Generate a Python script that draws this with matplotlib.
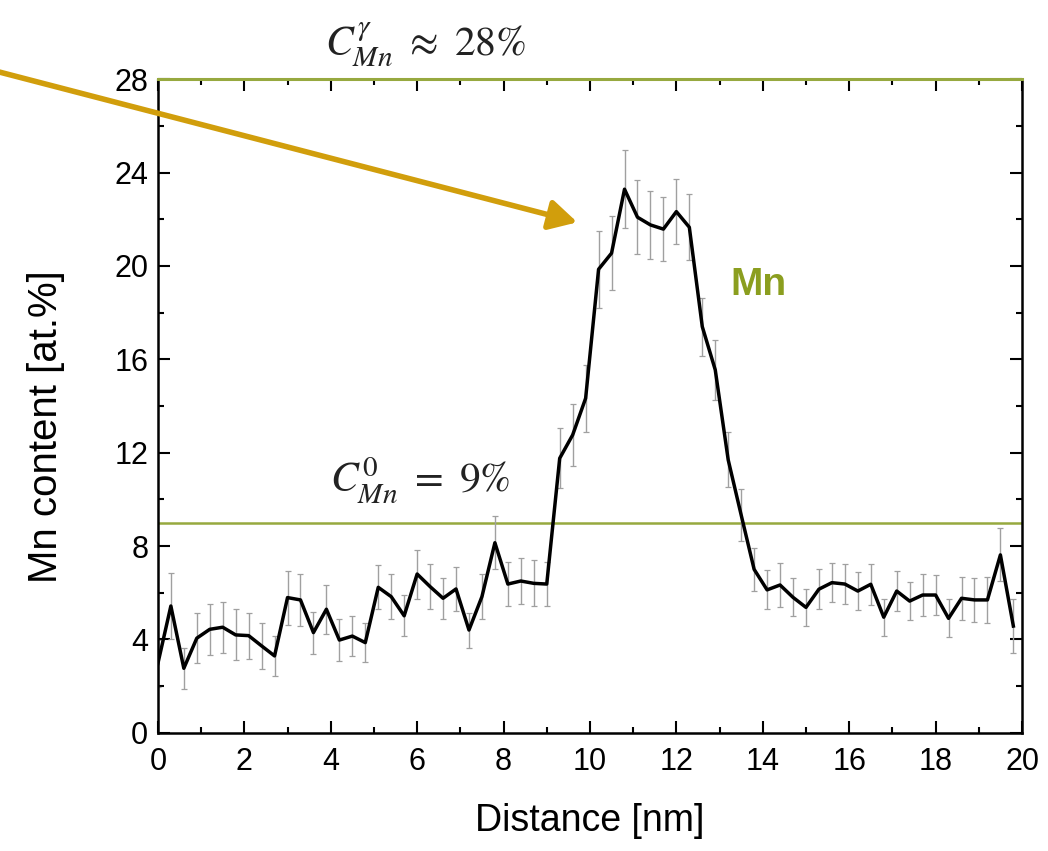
import numpy as np
import matplotlib
matplotlib.use("Agg")
import matplotlib.pyplot as plt
from matplotlib.patches import FancyArrowPatch
from matplotlib.ticker import MultipleLocator

# ---- data ----
distance_nm = np.round(np.arange(67) * 0.3, 1)
mn_content = [2.97, 5.43, 2.76, 4.05, 4.43, 4.52, 4.19, 4.16, 3.72, 3.29,
              5.79, 5.69, 4.29, 5.29, 3.97, 4.14, 3.86, 6.23, 5.83, 5.01,
              6.80, 6.26, 5.76, 6.16, 4.40, 5.83, 8.14, 6.37, 6.50, 6.40,
              6.37, 11.76, 12.76, 14.33, 19.86, 20.55, 23.29, 22.09, 21.76, 21.58,
              22.33, 21.66, 17.40, 15.55, 11.69, 9.33, 7.00, 6.12, 6.33, 5.80,
              5.37, 6.15, 6.43, 6.37, 6.07, 6.36, 4.95, 6.07, 5.64, 5.90,
              5.90, 4.90, 5.76, 5.69, 5.69, 7.62, 4.57]
mn_error = [1.00, 1.40, 0.89, 1.07, 1.10, 1.10, 1.09, 0.99, 0.98, 0.86,
            1.16, 1.10, 0.90, 1.04, 0.89, 0.87, 0.82, 0.95, 0.96, 0.88,
            1.05, 0.95, 0.88, 0.93, 0.75, 0.95, 1.14, 0.95, 0.98, 0.98,
            0.93, 1.29, 1.32, 1.43, 1.64, 1.59, 1.66, 1.59, 1.46, 1.36,
            1.39, 1.41, 1.24, 1.29, 1.18, 1.11, 0.91, 0.84, 0.93, 0.81,
            0.79, 0.86, 0.83, 0.84, 0.80, 0.87, 0.79, 0.86, 0.82, 0.88,
            0.86, 0.82, 0.91, 0.93, 1.00, 1.14, 1.14]
c0_level = 9
cgamma_level = 28
x_ticks = [0, 2, 4, 6, 8, 10, 12, 14, 16, 18, 20]
y_ticks = [0, 4, 8, 12, 16, 20, 24, 28]

GREEN = "#97A93F"
GREEN_TXT = "#8B9E1F"
GOLD = "#D19E0C"

plt.rcParams['font.family'] = ['Liberation Sans', 'DejaVu Sans']
plt.rcParams['mathtext.fontset'] = 'stix'

W, H = 1048, 851
fig = plt.figure(figsize=(W / 100, H / 100), dpi=100)
ax = fig.add_axes([157.9 / W, 1 - 732.7 / H, (1022 - 157.9) / W, (732.7 - 79.3) / H])

ax.errorbar(distance_nm, mn_content, yerr=mn_error, fmt='none', ecolor='#a0a0a0',
            elinewidth=1.0, capsize=2.0, capthick=0.9, zorder=2)
ax.plot(distance_nm, mn_content, color='black', lw=2.5, zorder=3)

ax.axhline(c0_level, color=GREEN, lw=1.8, zorder=1)
ax.axhline(cgamma_level, color=GREEN, lw=2.2, zorder=4, clip_on=False)

ax.set_xlim(0, 20)
ax.set_ylim(0, 28)
ax.set_xticks(x_ticks)
ax.set_yticks(y_ticks)
ax.xaxis.set_minor_locator(MultipleLocator(1))
ax.yaxis.set_minor_locator(MultipleLocator(2))
ax.tick_params(which='both', direction='in', top=True, right=True, width=1.5,
               labelsize=22)
ax.tick_params(axis='x', pad=10)
ax.tick_params(axis='y', pad=7)
ax.tick_params(which='major', length=8.5)
ax.tick_params(which='minor', length=4.5)
for s in ax.spines.values():
    s.set_linewidth(1.8)
ax.spines['top'].set_color(GREEN)

ax.set_xlabel('Distance [nm]', fontsize=27)
ax.xaxis.set_label_coords(0.5, -0.108)
ax.set_ylabel('Mn content [at.%]', fontsize=29)
ax.yaxis.set_label_coords(-0.108, 0.468)

fig.text(426 / W, 1 - 45 / H, r'$C_{Mn}^{\gamma}\ \approx\ 28\%$', ha='center', va='center',
         fontsize=30, color='#222222')
ax.text(6.07, 9.7, r'$C_{Mn}^{0}\ =\ 9\%$', ha='center', va='bottom', fontsize=30,
        color='#222222')
ax.text(13.9, 19.2, 'Mn', ha='center', va='center', fontsize=28,
        fontweight='bold', color=GREEN_TXT)

arrow = FancyArrowPatch((-20 / W, 1 - 67 / H), (580 / W, 1 - 223 / H),
                        transform=fig.transFigure, arrowstyle='-|>,head_length=1.2,head_width=0.65',
                        mutation_scale=14, color=GOLD, lw=4, clip_on=False, zorder=10)
fig.add_artist(arrow)

fig.savefig('out.png', dpi=100)
